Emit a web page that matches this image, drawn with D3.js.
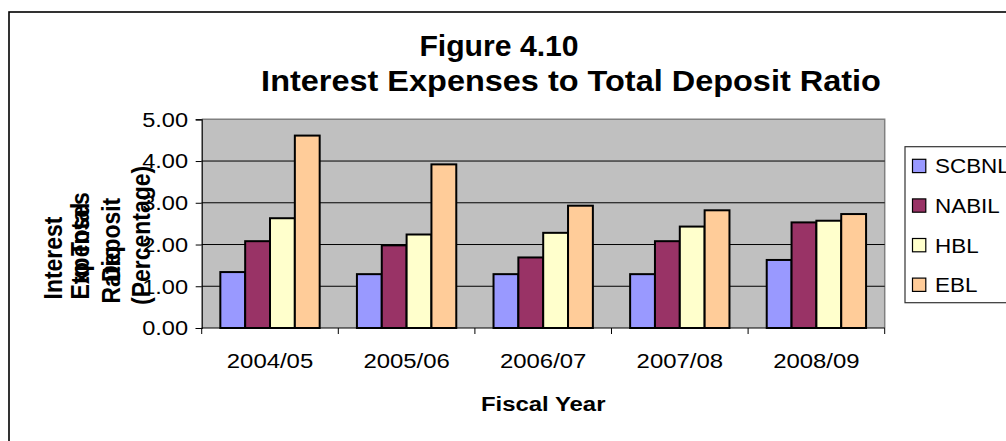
<!DOCTYPE html>
<html>
<head>
<meta charset="utf-8">
<script src="https://cdn.jsdelivr.net/npm/d3@7"></script>
<style>
  body { margin: 0; background: #fff; }
  text { font-family: Arial, "Liberation Sans", sans-serif; fill: #000; }
</style>
</head>
<body>
<div id="bar"></div>
<script>
// data
const years = ["2004/05", "2005/06", "2006/07", "2007/08", "2008/09"];
const banks = ["SCBNL", "NABIL", "HBL", "EBL"];
const scbnl = [1.34, 1.29, 1.29, 1.29, 1.63];
const nabil = [2.08, 1.98, 1.69, 2.08, 2.53];
const hbl = [2.63, 2.24, 2.28, 2.43, 2.57];
const ebl = [4.61, 3.92, 2.93, 2.82, 2.73];
const yTicks = [0, 1, 2, 3, 4, 5];
const colors = ["#9999FF", "#993366", "#FFFFCC", "#FFCC99"];

const width = 1006, height = 441;
const plot = { left: 201.7, right: 884.7, top: 119.3, bottom: 328 };
const SX = 1.15; // the source image is squeezed wider than tall, text too

function place(x, y, rot, sx) {
  return `translate(${x},${y}) scale(${sx || SX},1)` + (rot ? ` rotate(${rot})` : "");
}

const rows = years.map((yr, i) => ({
  year: yr, SCBNL: scbnl[i], NABIL: nabil[i], HBL: hbl[i], EBL: ebl[i]
}));

const svg = d3.select("#bar")
  .append("svg")
  .attr("width", width)
  .attr("height", height);

// outer chart border (runs off the right and bottom)
svg.append("rect")
  .attr("x", 9).attr("y", 12)
  .attr("width", 1100).attr("height", 500)
  .attr("fill", "none")
  .attr("stroke", "#000")
  .attr("stroke-width", 1.6);

// scales
const x = d3.scaleBand()
  .domain(years)
  .range([plot.left, plot.right])
  .paddingInner(0.2727)
  .paddingOuter(0.1364);

const xSub = d3.scaleBand()
  .domain(banks)
  .range([0, x.bandwidth()]);

const y = d3.scaleLinear().domain([0, 5]).range([plot.bottom, plot.top]);

const color = d3.scaleOrdinal().domain(banks).range(colors);

// plot background
svg.append("rect")
  .attr("x", plot.left).attr("y", plot.top)
  .attr("width", plot.right - plot.left)
  .attr("height", plot.bottom - plot.top)
  .attr("fill", "#C0C0C0");

// top / right edge of plot area
svg.append("path")
  .attr("d", `M${plot.left},${plot.top}H${plot.right}V${plot.bottom}`)
  .attr("fill", "none")
  .attr("stroke", "#808080")
  .attr("stroke-width", 1.5);

// gridlines
svg.append("g")
  .selectAll("line")
  .data(yTicks.filter(d => d > 0 && d < 5))
  .join("line")
  .attr("x1", plot.left).attr("x2", plot.right)
  .attr("y1", d => y(d)).attr("y2", d => y(d))
  .attr("stroke", "#000")
  .attr("stroke-width", 1);

// y axis
const yAxis = svg.append("g")
  .attr("transform", `translate(${plot.left},0)`)
  .call(d3.axisLeft(y).tickValues(yTicks).tickSize(6).tickFormat(d3.format(".2f")));
yAxis.select(".domain").attr("stroke", "#000").attr("stroke-width", 1.2);
yAxis.selectAll(".tick line").attr("stroke", "#000");
yAxis.selectAll(".tick text").remove();
svg.append("g")
  .selectAll("text")
  .data(yTicks)
  .join("text")
  .attr("transform", d => place(188, y(d) + 7.3))
  .attr("text-anchor", "end")
  .style("font-size", "20.5px")
  .text(d => d3.format(".2f")(d));

// bars
svg.append("g")
  .selectAll("g")
  .data(rows)
  .join("g")
  .attr("transform", d => `translate(${x(d.year)},0)`)
  .selectAll("rect")
  .data(d => banks.map(key => ({ key: key, value: d[key] })))
  .join("rect")
  .attr("x", d => xSub(d.key))
  .attr("y", d => y(d.value))
  .attr("width", xSub.bandwidth())
  .attr("height", d => y(0) - y(d.value))
  .attr("fill", d => color(d.key))
  .attr("stroke", "#000")
  .attr("stroke-width", 2);

// x axis
const bounds = years.map(c => x(c) + x.bandwidth() / 2 - x.step() / 2).concat([plot.right]);
svg.append("line")
  .attr("x1", plot.left).attr("x2", plot.right)
  .attr("y1", plot.bottom).attr("y2", plot.bottom)
  .attr("stroke", "#000").attr("stroke-width", 1.2);
svg.append("g")
  .selectAll("line")
  .data(bounds)
  .join("line")
  .attr("x1", d => d).attr("x2", d => d)
  .attr("y1", plot.bottom).attr("y2", plot.bottom + 6)
  .attr("stroke", "#000");
svg.append("g")
  .selectAll("text")
  .data(years)
  .join("text")
  .attr("transform", d => place(x(d) + x.bandwidth() / 2, 368))
  .attr("text-anchor", "middle")
  .style("font-size", "20.8px")
  .text(d => d);

// axis titles
svg.append("text")
  .attr("transform", place((plot.left + plot.right) / 2, 411))
  .attr("text-anchor", "middle")
  .style("font-size", "20.8px")
  .style("font-weight", "bold")
  .text("Fiscal Year");

// y title: the source wraps badly, lines overlap
const yTitle = [
  { t: "Interest", x: 61.5, y: 299.5 },
  { t: "Expenses", x: 89, y: 299.5 },
  { t: "to Total", x: 89, y: 284 },
  { t: "Deposit", x: 119.5, y: 282 },
  { t: "Ratio", x: 119.5, y: 303.5 },
  { t: "(Percentage)", x: 150, y: 305 }
];
svg.append("g")
  .selectAll("text")
  .data(yTitle)
  .join("text")
  .attr("transform", d => place(d.x, d.y, -90))
  .attr("text-anchor", "start")
  .style("font-size", "23px")
  .style("font-weight", "bold")
  .text(d => d.t);

// chart title
svg.append("text")
  .attr("transform", place(499, 56, 0, 1.04))
  .attr("text-anchor", "middle")
  .style("font-size", "29px")
  .style("font-weight", "bold")
  .text("Figure 4.10");
svg.append("text")
  .attr("transform", place(571, 91, 0, 1.12))
  .attr("text-anchor", "middle")
  .style("font-size", "29px")
  .style("font-weight", "bold")
  .text("Interest Expenses to Total Deposit Ratio");

// legend
const legend = svg.append("g");
legend.append("rect")
  .attr("x", 905).attr("y", 146.7)
  .attr("width", 200).attr("height", 156)
  .attr("fill", "#fff")
  .attr("stroke", "#333")
  .attr("stroke-width", 1.2);
const item = legend.selectAll("g")
  .data(banks)
  .join("g")
  .attr("transform", (d, i) => `translate(0,${159.3 + i * 39.6})`);
item.append("rect")
  .attr("x", 912.5).attr("y", 0)
  .attr("width", 13.3).attr("height", 13.3)
  .attr("fill", d => color(d))
  .attr("stroke", "#000")
  .attr("stroke-width", 1.2);
item.append("text")
  .attr("transform", place(935, 14))
  .style("font-size", "19.5px")
  .text(d => d);
</script>
</body>
</html>
